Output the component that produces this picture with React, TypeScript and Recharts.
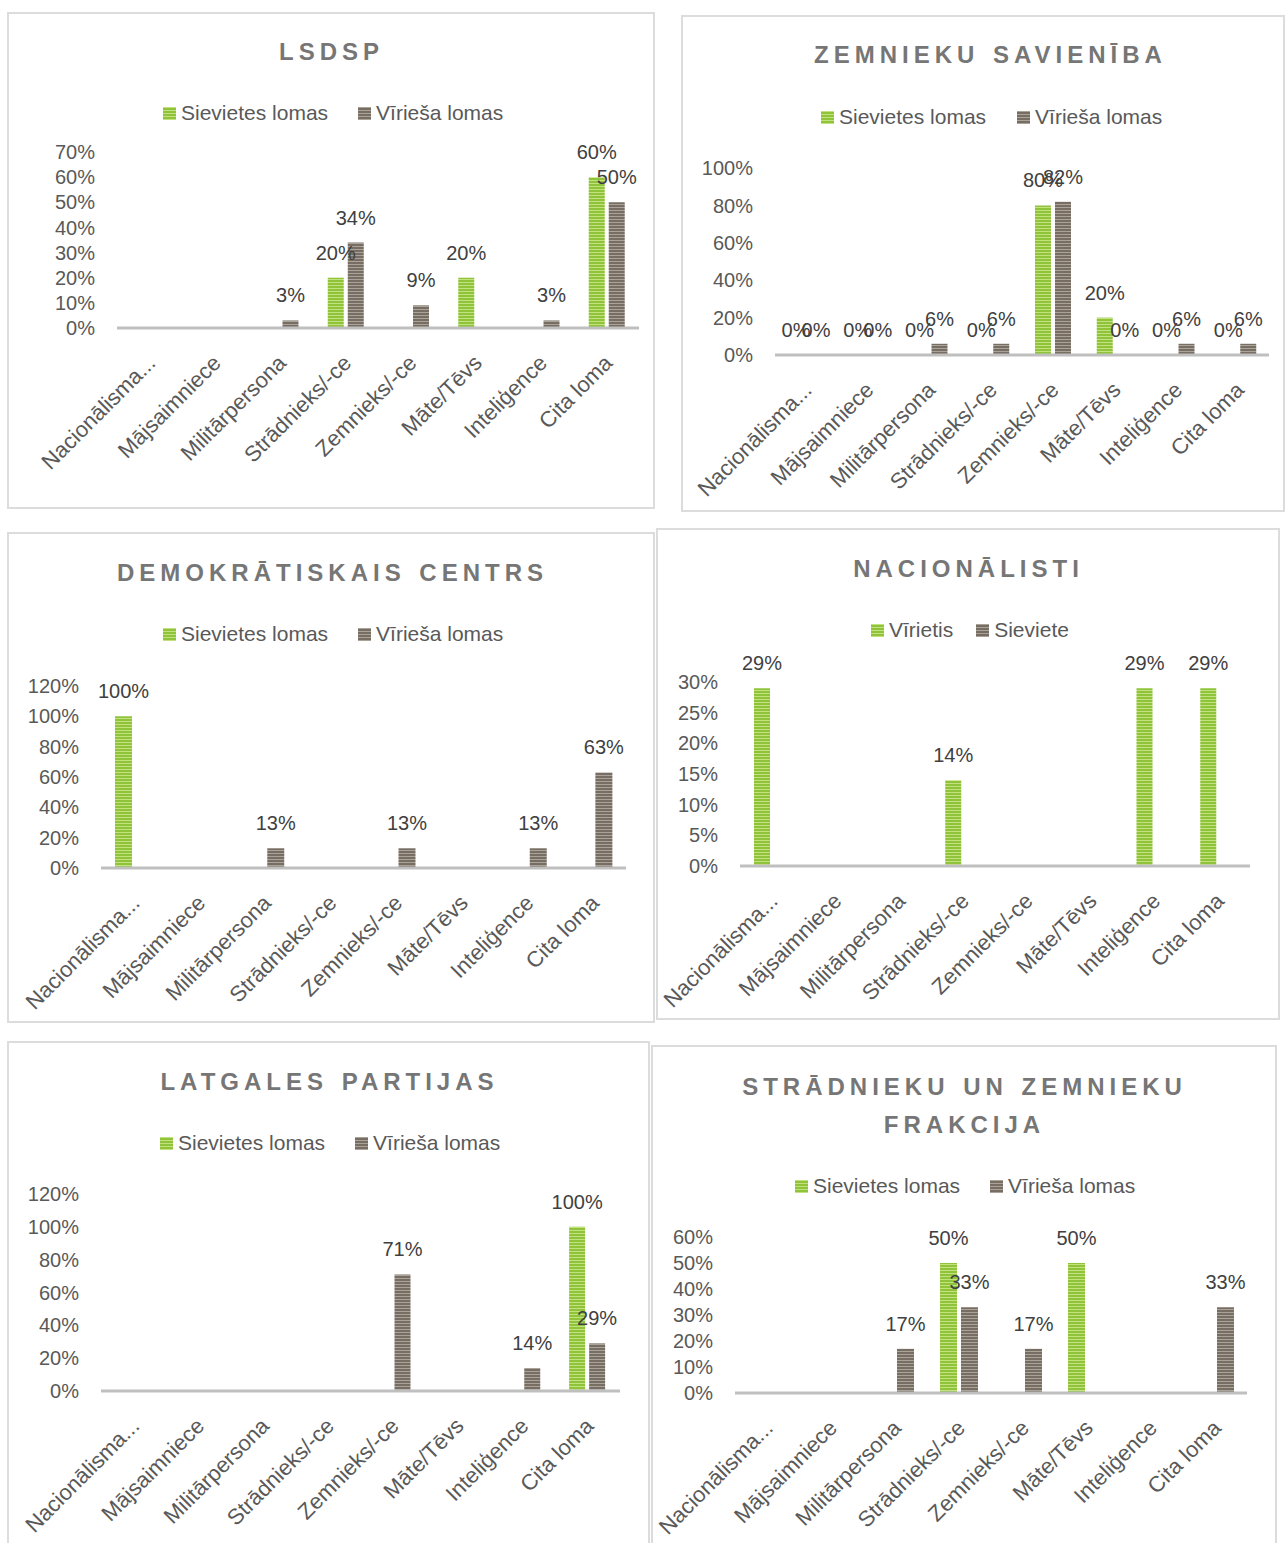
import React from 'react';
import { BarChart, Bar, XAxis, YAxis, LabelList } from 'recharts';

const roles = [
  'Nacionālisma...',
  'Mājsaimniece',
  'Militārpersona',
  'Strādnieks/-ce',
  'Zemnieks/-ce',
  'Māte/Tēvs',
  'Inteliģence',
  'Cita loma',
];

const lomasNames = ['Sievietes lomas', 'Vīrieša lomas'];
const nacNames = ['Vīrietis', 'Sieviete'];

// LSDSP
const lsdspWomen = [null, null, null, 0.2, null, 0.2, null, 0.6];
const lsdspMen = [null, null, 0.03, 0.34, 0.09, null, 0.03, 0.5];
const lsdspTicks = [0, 0.1, 0.2, 0.3, 0.4, 0.5, 0.6, 0.7];

// Zemnieku savienība
const zsWomen = [0, 0, 0, 0, 0.8, 0.2, 0, 0];
const zsMen = [0, 0, 0.06, 0.06, 0.82, 0, 0.06, 0.06];
const zsTicks = [0, 0.2, 0.4, 0.6, 0.8, 1];

// Demokrātiskais centrs
const dcWomen = [1, null, null, null, null, null, null, null];
const dcMen = [null, null, 0.13, null, 0.13, null, 0.13, 0.63];
const dcTicks = [0, 0.2, 0.4, 0.6, 0.8, 1, 1.2];

// Nacionālisti
const nacMen = [0.29, null, null, 0.14, null, null, 0.29, 0.29];
const nacWomen = [null, null, null, null, null, null, null, null];
const nacTicks = [0, 0.05, 0.1, 0.15, 0.2, 0.25, 0.3];

// Latgales partijas
const lpWomen = [null, null, null, null, null, null, null, 1];
const lpMen = [null, null, null, null, 0.71, null, 0.14, 0.29];
const lpTicks = [0, 0.2, 0.4, 0.6, 0.8, 1, 1.2];

// Strādnieku un zemnieku frakcija
const szfWomen = [null, null, null, 0.5, null, 0.5, null, null];
const szfMen = [null, null, 0.17, 0.33, 0.17, null, null, 0.33];
const szfTicks = [0, 0.1, 0.2, 0.3, 0.4, 0.5, 0.6];

// layout: box/plot = [left, top, right, bottom] in page px
const panels = [
  { id: 'p1', title: ['LSDSP'], titleX: 329, titleY: [52], legendX: 163, legendY: 113, legendGap: 30, names: lomasNames, a: lsdspWomen, b: lsdspMen, ticks: lsdspTicks, box: [7, 12, 655, 509], plot: [117, 152, 639, 328], barSize: 16 },
  { id: 'p2', title: ['ZEMNIEKU SAVIENĪBA'], titleX: 988, titleY: [55], legendX: 821, legendY: 117, legendGap: 31, names: lomasNames, a: zsWomen, b: zsMen, ticks: zsTicks, box: [681, 15, 1285, 512], plot: [775, 168, 1269, 355], barSize: 16 },
  { id: 'p3', title: ['DEMOKRĀTISKAIS CENTRS'], titleX: 330, titleY: [573], legendX: 163, legendY: 634, legendGap: 30, names: lomasNames, a: dcWomen, b: dcMen, ticks: dcTicks, box: [7, 532, 655, 1023], plot: [101, 686, 626, 868], barSize: 17 },
  { id: 'p4', title: ['NACIONĀLISTI'], titleX: 966, titleY: [569], legendX: 871, legendY: 630, legendGap: 23, names: nacNames, a: nacMen, b: nacWomen, ticks: nacTicks, box: [656, 528, 1280, 1020], plot: [740, 682, 1250, 866], barSize: 16 },
  { id: 'p5', title: ['LATGALES PARTIJAS'], titleX: 327, titleY: [1082], legendX: 160, legendY: 1143, legendGap: 30, names: lomasNames, a: lpWomen, b: lpMen, ticks: lpTicks, box: [7, 1041, 650, 1552], plot: [101, 1194, 620, 1391], barSize: 16 },
  { id: 'p6', title: ['STRĀDNIEKU UN ZEMNIEKU', 'FRAKCIJA'], titleX: 962, titleY: [1087, 1125], legendX: 795, legendY: 1186, legendGap: 30, names: lomasNames, a: szfWomen, b: szfMen, ticks: szfTicks, box: [651, 1045, 1277, 1552], plot: [735, 1237, 1247, 1393], barSize: 17 },
];

const FONT = "'Liberation Sans', Arial, sans-serif";
const X_AXIS_H = 120;

const pct = (v: number) => `${Math.round(v * 100)}%`;

const greenSwatch = 'repeating-linear-gradient(180deg, #c4e17f 0px, #c4e17f 1px, #8fc43a 1px, #8fc43a 3px)';
const greySwatch = 'repeating-linear-gradient(180deg, #aaa399 0px, #aaa399 1px, #776d62 1px, #776d62 3px)';

// zero values still get a (invisible) bar so that their "0%" label is drawn
const zeroBar = (v: any) => (v === 0 ? 0.01 : 0);

const renderValue = (props: any) => {
  const { x, y, width, value } = props;
  if (value === null || value === undefined || x === undefined) return null;
  return (
    <text
      x={Number(x) + Number(width) / 2}
      y={Number(y) - 25}
      textAnchor="middle"
      dominantBaseline="central"
      fontSize={20}
      fill="#404040"
    >
      {pct(Number(value))}
    </text>
  );
};

const XTick = (props: any) => {
  const { x, y, payload } = props;
  const tx = x + 2;
  const ty = y + 31;
  return (
    <text
      x={tx}
      y={ty}
      transform={`rotate(-45, ${tx}, ${ty})`}
      textAnchor="end"
      dominantBaseline="central"
      fontSize={22}
      fill="#595959"
    >
      {payload.value}
    </text>
  );
};

const Panel = ({ p }: { p: any }) => {
  const [bl, bt, br, bb] = p.box;
  const [pl, pt, pr, pb] = p.plot;
  const w = br - bl;
  const h = bb - bt;
  const data = roles.map((role, i) => ({ role, a: p.a[i], b: p.b[i] }));
  const yMax = p.ticks[p.ticks.length - 1];
  return (
    <>
      <div
        style={{
          position: 'absolute',
          left: bl,
          top: bt,
          width: w,
          height: h,
          boxSizing: 'border-box',
          border: '2px solid #dcdcdc',
        }}
      />
      {p.title.map((line: string, i: number) => (
        <div
          key={line}
          style={{
            position: 'absolute',
            left: p.titleX - 350,
            width: 700,
            top: p.titleY[i] - 16,
            height: 32,
            lineHeight: '32px',
            textAlign: 'center',
            fontSize: 24,
            fontWeight: 'bold',
            letterSpacing: 5,
            wordSpacing: 2,
            paddingLeft: 5,
            boxSizing: 'border-box',
            color: '#767676',
            whiteSpace: 'nowrap',
          }}
        >
          {line}
        </div>
      ))}
      <div
        style={{
          position: 'absolute',
          left: p.legendX,
          top: p.legendY - 13,
          height: 26,
          display: 'flex',
          alignItems: 'center',
          fontSize: 21,
          color: '#595959',
          whiteSpace: 'nowrap',
        }}
      >
        <span style={{ width: 13, height: 13, background: greenSwatch, marginRight: 5 }} />
        <span style={{ marginRight: p.legendGap }}>{p.names[0]}</span>
        <span style={{ width: 13, height: 13, background: greySwatch, marginRight: 5 }} />
        <span>{p.names[1]}</span>
      </div>
      <div style={{ position: 'absolute', left: bl, top: bt }}>
        <BarChart
          width={w}
          height={h}
          data={data}
          margin={{ top: pt - bt, right: br - pr, left: 0, bottom: h - (pb - bt) - X_AXIS_H }}
          barSize={p.barSize}
          barGap={4}
        >
          <defs>
            <pattern id={`green-${p.id}`} width="8" height="3" patternUnits="userSpaceOnUse">
              <rect width="8" height="3" fill="#8fc43a" />
              <rect width="8" height="1" fill="#c4e17f" />
            </pattern>
            <pattern id={`grey-${p.id}`} width="8" height="3" patternUnits="userSpaceOnUse">
              <rect width="8" height="3" fill="#776d62" />
              <rect width="8" height="1" fill="#aaa399" />
            </pattern>
          </defs>
          <XAxis
            dataKey="role"
            interval={0}
            height={X_AXIS_H}
            tickSize={0}
            tickMargin={0}
            tickLine={false}
            axisLine={{ stroke: '#bfbfbf', strokeWidth: 3 }}
            tick={XTick}
          />
          <YAxis
            width={pl - bl}
            domain={[0, yMax]}
            ticks={p.ticks}
            interval={0}
            tickFormatter={pct}
            axisLine={false}
            tickLine={false}
            tickSize={0}
            tickMargin={22}
            tick={{ fontSize: 20, fill: '#595959' }}
          />
          <Bar dataKey="a" name={p.names[0]} fill={`url(#green-${p.id})`} minPointSize={zeroBar} isAnimationActive={false}>
            <LabelList dataKey="a" content={renderValue} />
          </Bar>
          <Bar dataKey="b" name={p.names[1]} fill={`url(#grey-${p.id})`} minPointSize={zeroBar} isAnimationActive={false}>
            <LabelList dataKey="b" content={renderValue} />
          </Bar>
        </BarChart>
      </div>
    </>
  );
};

export default function App() {
  return (
    <div
      style={{
        position: 'absolute',
        left: 0,
        top: 0,
        width: 1287,
        height: 1543,
        overflow: 'hidden',
        background: '#ffffff',
        fontFamily: FONT,
      }}
    >
      {panels.map((p) => (
        <Panel key={p.id} p={p} />
      ))}
    </div>
  );
}
